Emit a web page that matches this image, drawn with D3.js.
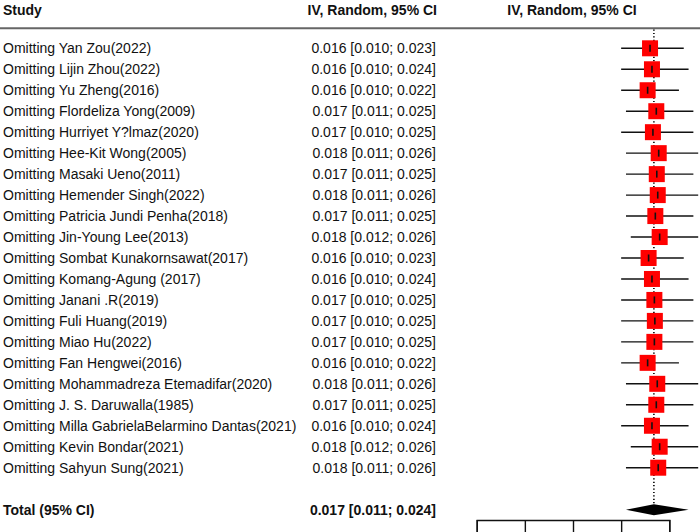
<!DOCTYPE html>
<html>
<head>
<meta charset="utf-8">
<script src="https://cdn.jsdelivr.net/npm/d3@7"></script>
<style>
  html, body { margin: 0; padding: 0; background: #fff; }
  svg { display: block; font-family: "Liberation Sans", Arial, sans-serif; }
</style>
</head>
<body>
<svg id="chart" width="700" height="532"></svg>
<script>
// ---- data ----
const studies = [
  "Omitting Yan Zou(2022)",
  "Omitting Lijin Zhou(2022)",
  "Omitting Yu Zheng(2016)",
  "Omitting Flordeliza Yong(2009)",
  "Omitting Hurriyet Y?lmaz(2020)",
  "Omitting Hee-Kit Wong(2005)",
  "Omitting Masaki Ueno(2011)",
  "Omitting Hemender Singh(2022)",
  "Omitting Patricia Jundi Penha(2018)",
  "Omitting Jin-Young Lee(2013)",
  "Omitting Sombat Kunakornsawat(2017)",
  "Omitting Komang-Agung (2017)",
  "Omitting Janani .R(2019)",
  "Omitting Fuli Huang(2019)",
  "Omitting Miao Hu(2022)",
  "Omitting Fan Hengwei(2016)",
  "Omitting Mohammadreza Etemadifar(2020)",
  "Omitting J. S. Daruwalla(1985)",
  "Omitting Milla GabrielaBelarmino Dantas(2021)",
  "Omitting Kevin Bondar(2021)",
  "Omitting Sahyun Sung(2021)"
];
const ciLabels = [
  "0.016 [0.010; 0.023]",
  "0.016 [0.010; 0.024]",
  "0.016 [0.010; 0.022]",
  "0.017 [0.011; 0.025]",
  "0.017 [0.010; 0.025]",
  "0.018 [0.011; 0.026]",
  "0.017 [0.011; 0.025]",
  "0.018 [0.011; 0.026]",
  "0.017 [0.011; 0.025]",
  "0.018 [0.012; 0.026]",
  "0.016 [0.010; 0.023]",
  "0.016 [0.010; 0.024]",
  "0.017 [0.010; 0.025]",
  "0.017 [0.010; 0.025]",
  "0.017 [0.010; 0.025]",
  "0.016 [0.010; 0.022]",
  "0.018 [0.011; 0.026]",
  "0.017 [0.011; 0.025]",
  "0.016 [0.010; 0.024]",
  "0.018 [0.012; 0.026]",
  "0.018 [0.011; 0.026]"
];
// point estimates as plotted
const estimates = [0.0160, 0.0164, 0.0155, 0.0173, 0.0166, 0.0178, 0.0174, 0.0176, 0.0171, 0.0180,
                   0.0157, 0.0164, 0.0169, 0.0170, 0.0169, 0.0155, 0.0175, 0.0173, 0.0164, 0.0180, 0.0177];
const lowers = [0.010, 0.010, 0.010, 0.011, 0.010, 0.011, 0.011, 0.011, 0.011, 0.012,
                0.010, 0.010, 0.010, 0.010, 0.010, 0.010, 0.011, 0.011, 0.010, 0.012, 0.011];
const uppers = [0.023, 0.024, 0.022, 0.025, 0.025, 0.026, 0.025, 0.026, 0.025, 0.026,
                0.023, 0.024, 0.025, 0.025, 0.025, 0.022, 0.026, 0.025, 0.024, 0.026, 0.026];
const totalLabel = "Total (95% CI)";
const totalCI = "0.017 [0.011; 0.024]";
const totalEst = 0.0168, totalLo = 0.011, totalHi = 0.024;
const axisTicks = [-0.02, -0.01, 0, 0.01, 0.02];
const headers = ["Study", "IV, Random, 95% CI", "IV, Random, 95% CI"];

// ---- layout ----
const svg = d3.select("#chart");
const x = d3.scaleLinear().domain([-0.02, 0.02]).range([476.7, 669.3]);
const y = d3.scaleLinear().domain([0, 1]).range([48.3, 69.27]); // row index -> center
const totalRow = studies.length + 1;

svg.append("defs").append("clipPath").attr("id", "plotclip")
  .append("rect").attr("x", 0).attr("y", 0).attr("width", 700).attr("height", 532);

// headers
svg.append("text").attr("x", 3).attr("y", 15).attr("font-size", 14).attr("font-weight", "bold")
  .attr("fill", "#111").text(headers[0]);
svg.append("text").attr("x", 437).attr("y", 15).attr("font-size", 14).attr("font-weight", "bold")
  .attr("text-anchor", "end").attr("fill", "#111").text(headers[1]);
svg.append("text").attr("x", 572).attr("y", 15).attr("font-size", 14).attr("font-weight", "bold")
  .attr("text-anchor", "middle").attr("fill", "#111").text(headers[2]);

// header rule
svg.append("line").attr("x1", 0).attr("x2", 700).attr("y1", 28.3).attr("y2", 28.3)
  .attr("stroke", "#666").attr("stroke-width", 2);

// study labels
svg.append("g").selectAll("text").data(studies).join("text")
  .attr("x", 3).attr("y", (d, i) => y(i) + 5)
  .attr("font-size", 14).attr("fill", "#111").text(d => d);
svg.append("g").selectAll("text").data(ciLabels).join("text")
  .attr("x", 436).attr("y", (d, i) => y(i) + 5).attr("text-anchor", "end")
  .attr("font-size", 14).attr("fill", "#111").text(d => d);

// total labels
svg.append("text").attr("x", 3).attr("y", y(totalRow) + 5).attr("font-size", 14)
  .attr("font-weight", "bold").attr("fill", "#111").text(totalLabel);
svg.append("text").attr("x", 436).attr("y", y(totalRow) + 5).attr("font-size", 14)
  .attr("font-weight", "bold").attr("text-anchor", "end").attr("fill", "#111").text(totalCI);

// dotted reference line at total estimate
svg.append("line").attr("x1", x(totalEst)).attr("x2", x(totalEst))
  .attr("y1", 29.5).attr("y2", y(totalRow) - 5)
  .attr("stroke", "#000").attr("stroke-width", 1.6).attr("stroke-dasharray", "1.2,2.2");

const g = svg.append("g").attr("clip-path", "url(#plotclip)");
const rows = studies.map((s, i) => ({ i, est: estimates[i], lo: lowers[i], hi: uppers[i] }));

// CI lines
g.selectAll("line.ci").data(rows).join("line").attr("class", "ci")
  .attr("x1", d => x(d.lo)).attr("x2", d => x(d.hi))
  .attr("y1", d => y(d.i)).attr("y2", d => y(d.i))
  .attr("stroke", "#111").attr("stroke-width", 1.4);

// squares
const box = 16;
g.selectAll("rect.sq").data(rows).join("rect").attr("class", "sq")
  .attr("x", d => x(d.est) - box / 2).attr("y", d => y(d.i) - box / 2)
  .attr("width", box).attr("height", box).attr("fill", "#ff0000");

// center ticks
g.selectAll("line.pt").data(rows).join("line").attr("class", "pt")
  .attr("x1", d => x(d.est)).attr("x2", d => x(d.est))
  .attr("y1", d => y(d.i) - 3.5).attr("y2", d => y(d.i) + 3.5)
  .attr("stroke", "#111").attr("stroke-width", 1.6);

// diamond
const yc = y(totalRow);
g.append("path")
  .attr("d", `M${x(totalLo)},${yc} L${x(totalEst)},${yc - 5.5} L${x(totalHi)},${yc} L${x(totalEst)},${yc + 5.5} Z`)
  .attr("fill", "#000");

// axis (tick labels fall below the visible area in the reference)
const axis = d3.axisBottom(x).tickValues(axisTicks).tickSize(14).tickFormat("");
const ax = svg.append("g").attr("transform", "translate(0,520)").call(axis);
ax.select(".domain").attr("stroke", "#111").attr("stroke-width", 1.4);
ax.selectAll(".tick line").attr("stroke", "#111").attr("stroke-width", 1.4);
</script>
</body>
</html>
